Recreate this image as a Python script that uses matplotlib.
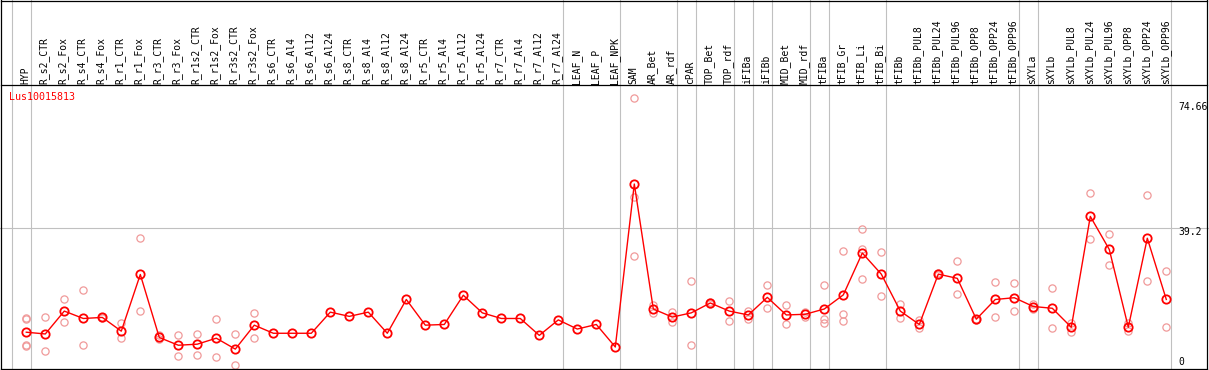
import matplotlib
matplotlib.use("Agg")
import matplotlib.pyplot as plt
from matplotlib.lines import Line2D

# ---------------- data ----------------
categories = [
    "HYP", "R_s2_CTR", "R_s2_Fox", "R_s4_CTR", "R_s4_Fox", "R_r1_CTR", "R_r1_Fox",
    "R_r3_CTR", "R_r3_Fox", "R_r1s2_CTR", "R_r1s2_Fox", "R_r3s2_CTR", "R_r3s2_Fox",
    "R_s6_CTR", "R_s6_Al4", "R_s6_Al12", "R_s6_Al24", "R_s8_CTR", "R_s8_Al4",
    "R_s8_Al12", "R_s8_Al24", "R_r5_CTR", "R_r5_Al4", "R_r5_Al12", "R_r5_Al24",
    "R_r7_CTR", "R_r7_Al4", "R_r7_Al12", "R_r7_Al24", "LEAF_N", "LEAF_P", "LEAF_NPK",
    "SAM", "AR_Bet", "AR_rdf", "cPAR", "TOP_Bet", "TOP_rdf", "iFIBa", "iFIBb",
    "MID_Bet", "MID_rdf", "tFIBa", "tFIB_Gr", "tFIB_Li", "tFIB_Bi", "tFIBb",
    "tFIBb_PUL8", "tFIBb_PUL24", "tFIBb_PUL96", "tFIBb_OPP8", "tFIBb_OPP24",
    "tFIBb_OPP96", "sXYLa", "sXYLb", "sXYLb_PUL8", "sXYLb_PUL24", "sXYLb_PUL96",
    "sXYLb_OPP8", "sXYLb_OPP24", "sXYLb_OPP96",
]

means = [
    9.6, 9.1, 15.6, 13.5, 13.8, 9.9, 26.0, 8.1, 5.9, 6.2, 7.9, 4.8, 11.6,
    9.3, 9.3, 9.3, 15.3, 14.1, 15.3, 9.3, 18.9, 11.6, 11.8, 20.1, 15.1,
    13.5, 13.5, 8.7, 13.1, 10.5, 11.8, 5.4,
    51.7, 16.2, 13.9, 15.1, 17.9, 15.6, 14.5, 19.5, 14.5, 14.7, 16.2, 20.2,
    32.1, 26.1, 15.6, 11.8, 26.1, 24.9, 13.3, 18.9, 19.4, 16.9, 16.4, 11.0,
    42.5, 33.1, 11.0, 36.3, 18.9,
]

replicates = [
    [13.6, 13.3, 5.9, 5.6], [13.8, 4.3], [18.9, 12.4], [21.5, 5.9], [13.9, 13.6],
    [12.2, 7.9], [36.3, 15.6], [8.8, 7.6], [8.7, 2.8], [9.0, 3.1], [13.4, 2.6],
    [9.0, 0.3], [15.1, 8.0],
    [], [], [], [], [], [], [], [], [], [], [], [], [], [], [], [], [], [], [],
    [76.05, 47.9, 31.2], [17.3, 15.0], [15.2, 12.4], [24.1, 5.9], [18.1, 17.7],
    [18.5, 12.7], [15.7, 13.4], [23.0, 16.4], [17.3, 11.8], [15.2, 14.0],
    [23.0, 13.4, 12.1], [32.6, 14.7, 12.7], [38.9, 33.3, 24.6], [32.4, 19.9],
    [17.6, 13.6], [13.1, 10.7], [26.3, 25.9], [29.7, 20.4], [13.4, 13.2],
    [23.8, 13.8], [23.5, 15.5], [17.6, 16.1], [22.1, 10.7], [12.3, 9.6],
    [49.1, 36.0], [37.4, 28.6], [12.1, 10.0], [48.5, 24.1], [26.9, 11.0],
]

# indices after which a group separator line is drawn
separators_after = [-1, 0, 28, 31, 34, 35, 37, 38, 39, 41, 42, 45, 52, 53, 60]

gene = "Lus10015813"
ymax_label = 74.66
ymid_label = 39.2

# ---------------- layout ----------------
W, H = 1209, 370
fig = plt.figure(figsize=(W / 100, H / 100), dpi=100)
ax = fig.add_axes([0, 0, 1, 1])
ax.set_axis_off()

x0_px, step_px = 26.3, 19.0
zero_px, unit_px = 366.0, 3.52
ax.set_xlim(-x0_px / step_px, (W - x0_px) / step_px)
ax.set_ylim(-(H - zero_px) / unit_px, zero_px / unit_px)

mono = "DejaVu Sans Mono"
grey = "#c0c0c0"


def fx(px):
    return px / W


def fy(py):
    return 1 - py / H


# separators (full height)
for s in separators_after:
    ax.axvline(s + 0.23, color=grey, lw=0.8, zorder=1)

# grid line at mid value
ax.axhline(ymid_label, color=grey, lw=0.8, zorder=1)

# frame lines
frame_kw = dict(color="black", lw=0.9, transform=fig.transFigure, zorder=5)
fig.add_artist(Line2D([fx(1), fx(1207)], [fy(0.5), fy(0.5)], **frame_kw))
fig.add_artist(Line2D([fx(1), fx(1207)], [fy(85), fy(85)], **frame_kw))
fig.add_artist(Line2D([fx(1), fx(1207)], [fy(369), fy(369)], **frame_kw))
fig.add_artist(Line2D([fx(1.2), fx(1.2)], [fy(0), fy(370)], **frame_kw))
fig.add_artist(Line2D([fx(1207), fx(1207)], [fy(0), fy(370)], **frame_kw))

# column labels
xs = list(range(len(categories)))
for i, name in zip(xs, categories):
    ax.text(i - 0.05, fy(83.5), name, rotation=90, ha="center", va="bottom",
            fontsize=7, family=mono, color="black",
            transform=ax.get_xaxis_transform(), zorder=6)

# replicate points
rx, ry = [], []
for i, reps in zip(xs, replicates):
    for v in reps:
        rx.append(i)
        ry.append(v)
ax.plot(rx, ry, linestyle="none", marker="o", markersize=5.2,
        markerfacecolor="none", markeredgecolor="#f09a9a", markeredgewidth=0.9,
        zorder=3)

# mean line
ax.plot(xs, means, color="#ff0000", lw=1.0, marker="o", markersize=6.0,
        markerfacecolor="none", markeredgecolor="#ff0000", markeredgewidth=1.3,
        zorder=4)

# gene label
ax.text(fx(9), fy(97), gene, color="#ff0000", fontsize=7.2, family=mono,
        ha="left", va="center", transform=fig.transFigure, zorder=6)

# value labels
ax.text(fx(1178.5), fy(107), f"{ymax_label:g}", fontsize=7, family=mono,
        ha="left", va="center", transform=fig.transFigure, zorder=6)
ax.text(fx(1178.5), fy(232), f"{ymid_label:g}", fontsize=7, family=mono,
        ha="left", va="center", transform=fig.transFigure, zorder=6)
ax.text(fx(1178.5), fy(362), "0", fontsize=7, family=mono,
        ha="left", va="center", transform=fig.transFigure, zorder=6)

fig.savefig("out.png", dpi=100, facecolor="white")
